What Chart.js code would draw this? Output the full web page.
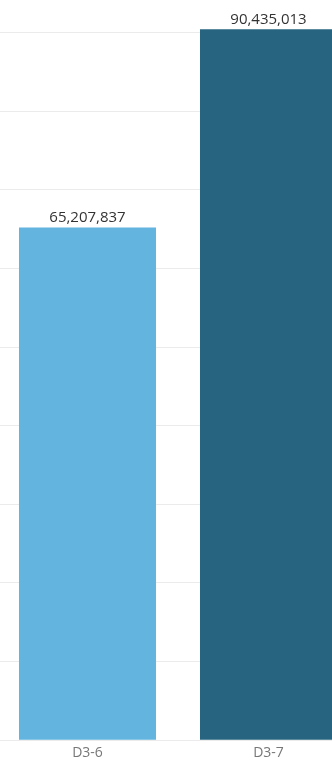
<!DOCTYPE html>
<html lang="en">
<head>
    <meta charset="UTF-8">
    <title>D3 totals</title>
    <script src="https://cdn.jsdelivr.net/npm/chart.js"></script>
    <style>
        html, body { margin: 0; padding: 0; background: #fff; overflow: hidden; }
        /* the 100M line sits just above the visible area */
        .chart-wrap { position: absolute; left: -3px; top: -46px; width: 362px; height: 811px; }
    </style>
</head>
<body>
    <div class="chart-wrap">
        <canvas id="totalsChart" width="362" height="811"></canvas>
    </div>
    <script>
        const categories = ['D3-6', 'D3-7'];
        const totals = [65207837, 90435013];
        const barColors = ['#63B4DF', '#27647F'];
        const gridStep = 10000000;
        const axisMax = 100000000;

        // writes the total above each bar
        const valueLabels = {
            id: 'valueLabels',
            afterDatasetsDraw(chart) {
                const ctx = chart.ctx;
                const meta = chart.getDatasetMeta(0);
                ctx.save();
                ctx.font = '15px "Open Sans"';
                ctx.fillStyle = '#333';
                ctx.textAlign = 'center';
                ctx.textBaseline = 'bottom';
                meta.data.forEach(function(bar, i) {
                    ctx.fillText(totals[i].toLocaleString('en-US'), bar.x, bar.y - 2);
                });
                ctx.restore();
            }
        };

        new Chart(document.getElementById('totalsChart').getContext('2d'), {
            type: 'bar',
            data: {
                labels: categories,
                datasets: [{
                    data: totals,
                    backgroundColor: barColors,
                    categoryPercentage: 1,
                    barPercentage: 0.757
                }]
            },
            options: {
                responsive: false,
                animation: false,
                layout: { padding: 0 },
                plugins: {
                    legend: { display: false },
                    tooltip: { enabled: false }
                },
                scales: {
                    x: {
                        grid: { display: false, drawTicks: false },
                        border: { display: false },
                        ticks: {
                            color: '#777',
                            font: { family: 'Open Sans', size: 14 },
                            padding: 4
                        }
                    },
                    y: {
                        min: 0,
                        max: axisMax,
                        border: { display: false },
                        grid: {
                            drawTicks: false,
                            lineWidth: 1,
                            color: '#ebebeb'
                        },
                        ticks: { display: false, stepSize: gridStep }
                    }
                }
            },
            plugins: [valueLabels]
        });
    </script>
</body>
</html>
